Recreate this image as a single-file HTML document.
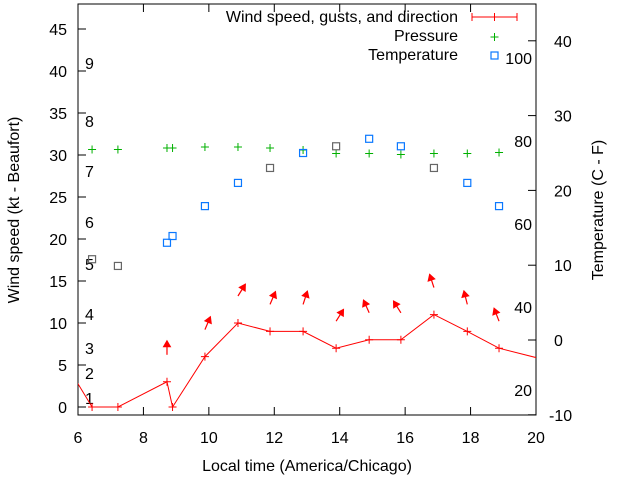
<!DOCTYPE html>
<html><head><meta charset="utf-8"><style>
body{margin:0;background:#fff}
svg{font-family:"Liberation Sans",sans-serif;font-size:16px}
</style></head><body>
<svg id="c" width="640" height="480">
<defs><clipPath id="clip"><rect x="78" y="4" width="458" height="411"/></clipPath></defs>
<g id="grid"></g>
<rect x="78" y="4" width="458" height="411" fill="none" stroke="#000" stroke-width="1"/>
<text x="307" y="471" text-anchor="middle">Local time (America/Chicago)</text>
<text transform="translate(19,210) rotate(-90)" text-anchor="middle">Wind speed (kt - Beaufort)</text>
<text transform="translate(603,210) rotate(-90)" text-anchor="middle">Temperature (C - F)</text>
<g>
<text x="458" y="22" text-anchor="end">Wind speed, gusts, and direction</text>
<path d="M472 17H517M472 13V21M517 13V21M494.5 13V21" stroke="red"/>
<text x="458" y="41" text-anchor="end">Pressure</text>
<path d="M490.5 37H498.5M494.5 33V41" stroke="#00b000"/>
<text x="458" y="60" text-anchor="end">Temperature</text>
<rect x="491" y="52" width="7" height="7" fill="none" stroke="#0a78ff" stroke-width="1.2"/>
</g>
<g id="marks" clip-path="url(#clip)"></g>
</svg>
<script>
const hours=[6.43,7.22,8.72,8.89,9.88,10.89,11.87,12.88,13.89,14.9,15.87,16.88,17.9,18.87];
const wind=[0,0,3,0,6,10,9,9,7,8,8,11,9,7];
const windTimesExt=[5.9,6.43,7.22,8.72,8.89,9.88,10.89,11.87,12.88,13.89,14.9,15.87,16.88,17.9,18.87,20.9];
const windExt=[3.4,0,0,3,0,6,10,9,9,7,8,8,11,9,7,5];
const pressure=[30.65,30.65,30.83,30.83,30.95,30.95,30.83,30.6,30.18,30.18,30.06,30.18,30.18,30.3];
const temperature=[10.8,9.9,13,13.9,17.9,21,23,25,25.9,26.9,25.9,23,21,17.9];
const tempGray=[true,true,false,false,false,false,true,false,true,false,false,true,false,false];
const arrowHours=[8.72,9.88,10.89,11.87,12.88,13.89,14.9,15.87,16.88,17.9,18.87];
const arrowDir=[0,23,32,23,18,32,336,328,342,346,339];
const xTicks=[6,8,10,12,14,16,18,20];
const yTicks=[0,5,10,15,20,25,30,35,40,45];
const y2Ticks=[-10,0,10,20,30,40];
const beaufortLabels=["1","2","3","4","5","6","7","8","9"];
const beaufortY=[398,373,348,314,264,222,171,121,63];
const fahrLabels=["20","40","60","80","100"];
const fahrY=[390,307,224,141,58];

const X=h=>78+(h-6)*(458/14);
const Y=v=>407-v*8.4;
const Y2=t=>340-t*7.48;
const NS="http://www.w3.org/2000/svg";
const g=document.getElementById('grid'),m=document.getElementById('marks');
function mk(tag,attrs,parent,txt){const e=document.createElementNS(NS,tag);for(const k in attrs)e.setAttribute(k,attrs[k]);if(txt!==undefined)e.textContent=txt;parent.appendChild(e);return e;}

xTicks.forEach(h=>{
 const t=mk('path',{d:`M${X(h)} 415v-8M${X(h)} 4v8`,stroke:'#000'},g);
 
 
 const l=mk('text',{x:X(h),y:443,'text-anchor':'middle'},g,String(h));
 
 
});
yTicks.forEach(v=>{
 const t=mk('path',{d:`M78 ${Y(v)}h8`,stroke:'#000'},g);
 
 
 const l=mk('text',{x:67,y:Y(v)+6,'text-anchor':'end'},g,String(v));
 
 
});
y2Ticks.forEach(v=>{
 const t=mk('path',{d:`M536 ${Y2(v)}h-8`,stroke:'#000'},g);
 
 
 const l=mk('text',{x:v<0?549:554,y:Y2(v)+6},g,String(v));
 
 
});
beaufortLabels.forEach((s,i)=>{
 const l=mk('text',{x:85,y:beaufortY[i]+6},g,s);
 
 
});
fahrLabels.forEach((s,i)=>{
 const l=mk('text',{x:532,y:fahrY[i]+6,'text-anchor':'end'},g,s);
 
 
});

const wl=mk('polyline',{points:windTimesExt.map((h,i)=>X(h)+','+Y(windExt[i])).join(' '),fill:'none',stroke:'red','stroke-width':1},m);


hours.forEach((h,i)=>{
 const p=mk('path',{d:`M${X(h)-4} ${Y(wind[i])}h8M${X(h)} ${Y(wind[i])-4}v8`,stroke:'red'},m);
 
 
});
hours.forEach((h,i)=>{
 const p=mk('path',{d:`M${X(h)-4} ${Y(pressure[i])}h8M${X(h)} ${Y(pressure[i])-4}v8`,stroke:'#00b000'},m);
 
 
});
hours.forEach((h,i)=>{
 const p=mk('rect',{x:X(h)-3.5,y:Y2(temperature[i])-3.5,width:7,height:7,fill:'none',stroke:tempGray[i]?'#666':'#0a78ff','stroke-width':1.2},m);
 
 
});
arrowHours.forEach((h,i)=>{
 const idx=hours.indexOf(h);
 const x0=X(h),y0=Y(wind[idx])-27;
 const a=arrowDir[i]*Math.PI/180,L=14;
 const x1=x0+L*Math.sin(a),y1=y0-L*Math.cos(a);
 const ux=Math.sin(a),uy=-Math.cos(a),px=-uy,py=ux;
 const b1x=x1-6*ux+3.5*px,b1y=y1-6*uy+3.5*py,b2x=x1-6*ux-3.5*px,b2y=y1-6*uy-3.5*py;
 const grp=mk('g',{},m);
 
 
 mk('line',{x1:x0,y1:y0,x2:x1,y2:y1,stroke:'red','stroke-width':1.2},grp);
 mk('polygon',{points:`${x1},${y1} ${b1x},${b1y} ${b2x},${b2y}`,fill:'red',stroke:'red'},grp);
});
</script>
</body></html>
